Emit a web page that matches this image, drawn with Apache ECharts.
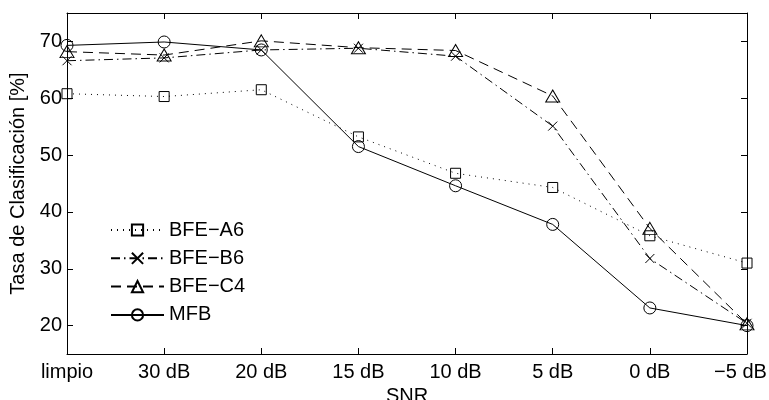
<!DOCTYPE html>
<html>
<head>
<meta charset="utf-8">
<script src="https://cdn.jsdelivr.net/npm/echarts@6/dist/echarts.min.js"></script>
<style>
  html, body { margin: 0; padding: 0; background: #fff; }
  #chart { width: 769px; height: 400px; }
</style>
</head>
<body>
<div id="chart"></div>
<script>
// SNR conditions along the x axis
const categories = ['limpio', '30 dB', '20 dB', '15 dB', '10 dB', '5 dB', '0 dB', '\u22125 dB'];

// Classification rate [%] per front-end
const bfeA6 = [60.8, 60.3, 61.5, 53.2, 46.8, 44.3, 35.8, 31.0];
const bfeB6 = [66.6, 67.1, 68.5, 68.8, 67.4, 55.1, 31.8, 20.4];
const bfeC4 = [68.2, 67.6, 70.1, 68.9, 68.4, 60.4, 37.1, 20.3];
const mfb   = [69.3, 69.9, 68.5, 51.5, 44.6, 37.8, 23.1, 20.0];

const seriesNames = ['BFE\u2212A6', 'BFE\u2212B6', 'BFE\u2212C4', 'MFB'];

const FONT = 'Liberation Sans, Arial, Helvetica, sans-serif';
const FS = 20;

const chart = echarts.init(document.getElementById('chart'), null, { renderer: 'canvas' });

// hollow markers, lines show through them
const hollow = { color: 'rgba(0,0,0,0)', borderColor: '#000', borderWidth: 1 };

function makeSeries(name, data, symbol, symbolSize, dash) {
  return {
    name: name,
    type: 'line',
    data: data,
    symbol: symbol,
    symbolSize: symbolSize,
    showAllSymbol: true,
    itemStyle: hollow,
    lineStyle: { color: '#000', width: 1, type: dash },
    emphasis: { disabled: true },
    z: 3
  };
}

const commonAxisLine = { show: true, lineStyle: { color: '#000', width: 1 } };
const commonTick = { show: true, inside: true, length: 6, lineStyle: { color: '#000', width: 1 } };

chart.setOption({
  animation: false,
  backgroundColor: '#fff',
  textStyle: { fontFamily: FONT, color: '#000' },
  grid: { left: 67, right: 22, top: 13, bottom: 46, containLabel: false, outerBoundsMode: 'none' },
  legend: {
    data: seriesNames,
    left: 110,
    top: 220,
    orient: 'vertical',
    padding: 0,
    itemWidth: 53,
    itemHeight: 14,
    itemGap: 8.3,
    textStyle: { fontFamily: FONT, fontSize: FS, color: '#000', lineHeight: 20 },
    selectedMode: false
  },
  xAxis: [
    {
      type: 'category',
      data: categories,
      boundaryGap: false,
      position: 'bottom',
      name: 'SNR',
      nameLocation: 'middle',
      nameGap: 29,
      nameTextStyle: { fontFamily: FONT, fontSize: FS, color: '#000' },
      axisLine: commonAxisLine,
      axisTick: Object.assign({ alignWithLabel: true, interval: 0 }, commonTick),
      axisLabel: {
        fontFamily: FONT, fontSize: FS, color: '#000', margin: 8, interval: 0,
        // keep the last label inside the canvas
        formatter: function (value, index) {
          return index === categories.length - 1 ? '{last|' + value + '}' : value;
        },
        rich: {
          last: { fontFamily: FONT, fontSize: FS, color: '#000', padding: [0, 13, 0, 0] }
        }
      },
      splitLine: { show: false }
    },
    {
      type: 'category',
      data: categories,
      boundaryGap: false,
      position: 'top',
      axisLine: commonAxisLine,
      axisTick: Object.assign({ interval: 0 }, commonTick),
      axisLabel: { show: false },
      splitLine: { show: false }
    }
  ],
  yAxis: [
    {
      type: 'value',
      min: 15,
      max: 75,
      splitNumber: 6,
      position: 'left',
      name: 'Tasa de Clasificaci\u00f3n [%]',
      nameLocation: 'middle',
      nameGap: 33,
      nameTextStyle: { fontFamily: FONT, fontSize: FS, color: '#000' },
      axisLine: commonAxisLine,
      axisTick: commonTick,
      axisLabel: { fontFamily: FONT, fontSize: FS, color: '#000', margin: 5, showMinLabel: false, showMaxLabel: false },
      splitLine: { show: false }
    },
    {
      type: 'value',
      min: 15,
      max: 75,
      splitNumber: 6,
      position: 'right',
      axisLine: commonAxisLine,
      axisTick: commonTick,
      axisLabel: { show: false },
      splitLine: { show: false }
    }
  ],
  series: [
    makeSeries(seriesNames[0], bfeA6, 'rect', 10, [1, 5]),
    makeSeries(seriesNames[1], bfeB6, 'path://M0,0L10,10M10,0L0,10', 9, [9, 4, 1.5, 4]),
    makeSeries(seriesNames[2], bfeC4, 'triangle', [14, 12], [10, 6]),
    makeSeries(seriesNames[3], mfb, 'circle', 12, 'solid')
  ]
});
</script>
</body>
</html>
